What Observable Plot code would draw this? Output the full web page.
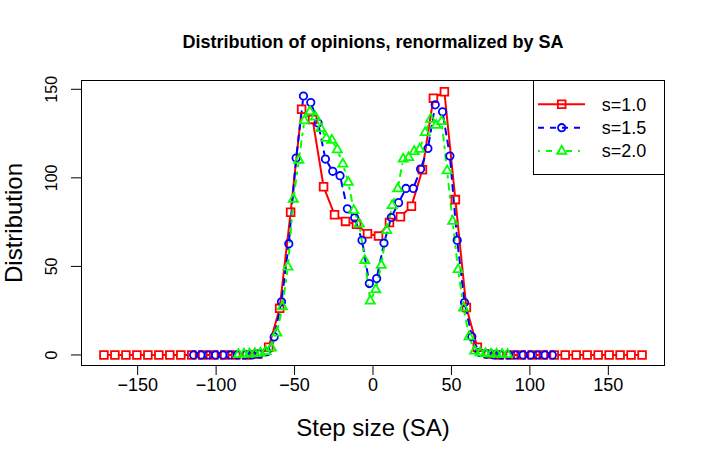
<!DOCTYPE html>
<html><head><meta charset="utf-8">
<script src="https://cdn.jsdelivr.net/npm/d3@7"></script>
<script src="https://cdn.jsdelivr.net/npm/@observablehq/plot@0.6"></script>
<style>
body{margin:0;background:#fff;}
#wrap{position:relative;width:706px;height:467px;font-family:"Liberation Sans",Arial,Helvetica,sans-serif;}
#legend{position:absolute;left:533px;top:80px;}
</style></head><body><div id="wrap"></div>
<script>
// ---- data ----
const title = "Distribution of opinions, renormalized by SA";
const xLabel = "Step size (SA)";
const yLabel = "Distribution";
const xTicks = [-150, -100, -50, 0, 50, 100, 150];
const yTicks = [0, 50, 100, 150];
const seriesNames = ["s=1.0", "s=1.5", "s=2.0"];

const x10 = [-171.5,-164.5,-157.5,-150.5,-143.5,-136.5,-129.5,-122.5,-115.5,-108.5,-101.5,-94.5,-87.5,-80.5,-73.5,-66.5,-59.5,-52.5,-45.5,-38.5,-31.5,-24.5,-17.5,-10.5,-3.5,3.5,10.5,17.5,24.5,31.5,38.5,45.5,52.5,59.5,66.5,73.5,80.5,87.5,94.5,101.5,108.5,115.5,122.5,129.5,136.5,143.5,150.5,157.5,164.5,171.5];
const y10 = [0,0,0,0,0,0,0,0,0,0,0,0,0,0,
  0.5,4.3,26.3,80.6,138.7,133,95,79.2,75.4,73.8,68.4,67.1,74.8,78,84,104.6,145,148.6,87.7,26.8,4.3,0.5,
  0,0,0,0,0,0,0,0,0,0,0,0,0,0];

const x15 = [-114.33,-109.67,-105,-100.33,-95.67,-91,-86.33,-81.67,-77,-72.33,-67.67,-63,-58.33,-53.67,-49,-44.33,-39.67,-35,-30.33,-25.67,-21,-16.33,-11.67,-7,-2.33,2.33,7,11.67,16.33,21,25.67,30.33,35,39.67,44.33,49,53.67,58.33,63,67.67,72.33,77,81.67,86.33,91,95.67,100.33,105,109.67,114.33];
const y15 = [0,0,0,0,0,0,0,0,0,
  0.5,1.8,10.2,30,62.8,111.2,146.2,142.5,131,110.6,103.7,101.2,82.5,77.4,64.7,40.3,43.1,63.2,77.6,86,94,94,105,116.6,141.2,137.3,112.3,64.7,29.6,10.3,1.5,0.5,
  0,0,0,0,0,0,0,0,0];

const x20 = [-85.75,-82.25,-78.75,-75.25,-71.75,-68.25,-64.75,-61.25,-57.75,-54.25,-50.75,-47.25,-43.75,-40.25,-36.75,-33.25,-29.75,-26.25,-22.75,-19.25,-15.75,-12.25,-8.75,-5.25,-1.75,1.75,5.25,8.75,12.25,15.75,19.25,22.75,26.25,29.75,33.25,36.75,40.25,43.75,47.25,50.75,54.25,57.75,61.25,64.75,68.25,71.75,75.25,78.75,82.25,85.75];
const y20 = [0.3,0.5,0.6,0.8,1.0,1.9,4.0,12.4,27.2,49.7,88,110,132.3,137.4,134.4,127.9,122.4,121.3,115.9,107.8,97.5,81.6,74,53.4,30.5,36.9,50.6,70.3,84.4,93.8,110.6,111.5,114.9,116.2,125.6,133.1,129.7,131.8,104,75.5,48.2,26.6,10.3,2.2,1.2,0.8,0.6,0.5,0.4,0.3];

// ---- styles ----
const styles = [
  {color:"#FF0000", symbol:"square",   r:4.35, dash:null},
  {color:"#0000FF", symbol:"circle",   r:3.7,  dash:"6,6"},
  {color:"#00FF00", symbol:"triangle", r:3.4,  dash:"2,6,6,6"}
];
const series = [[x10,y10],[x15,y15],[x20,y20]].map(([xs,ys],i) => ({
  name: seriesNames[i], ...styles[i],
  data: xs.map((x,j) => ({x, y: ys[j]}))
}));

// R type="b": line segments with gaps around each point
function gapCurve(gap) {
  return (context) => {
    let pts = [];
    return {
      areaStart(){}, areaEnd(){},
      lineStart(){ pts = []; },
      point(x, y){ pts.push([+x, +y]); },
      lineEnd(){
        for (let i = 0; i < pts.length - 1; i++) {
          const [x0,y0] = pts[i], [x1,y1] = pts[i+1];
          const dx = x1 - x0, dy = y1 - y0, d = Math.hypot(dx, dy);
          if (d > 2*gap + 0.5) {
            const ux = dx/d, uy = dy/d;
            context.moveTo(x0 + ux*gap, y0 + uy*gap);
            context.lineTo(x1 - ux*gap, y1 - uy*gap);
          }
        }
      }
    };
  };
}

const fmt = d3.format("d");
const marks = [];
for (const s of series) {
  marks.push(Plot.line(s.data, {x:"x", y:"y", stroke:s.color, strokeWidth:2,
    strokeDasharray: s.dash || undefined, curve: gapCurve(5)}));
}
for (const s of series) {
  marks.push(Plot.dot(s.data, {x:"x", y:"y", symbol:s.symbol, r:s.r, stroke:s.color,
    strokeWidth:1.8, fill:"none"}));
}

const chart = Plot.plot({
  width: 706, height: 467,
  marginLeft: 81, marginRight: 42, marginTop: 80, marginBottom: 102,
  style: {fontFamily: "'Liberation Sans', Arial, Helvetica, sans-serif", background: "white", color: "black"},
  x: {domain: [-185.8, 185.8], axis: null},
  y: {domain: [-5.96, 154.96], axis: null},
  marks: [
    Plot.frame({stroke: "black", strokeWidth: 1}),
    Plot.axisX({ticks: xTicks, tickSize: 10, tickFormat: () => "", label: null, stroke:"black"}),
    Plot.axisY({ticks: yTicks, tickSize: 10, tickFormat: () => "", label: null, stroke:"black"}),
    Plot.text(xTicks, {x: d => d, text: d => fmt(d), frameAnchor: "bottom", dy: 20, fontSize: 18, textAnchor: "middle", lineAnchor: "middle", fill: "black"}),
    Plot.text(yTicks, {y: d => d, text: d => fmt(d), frameAnchor: "left", dx: -30, rotate: -90, fontSize: 16, textAnchor: "middle", lineAnchor: "middle", fill: "black"}),
    Plot.text([xLabel], {text: d => d, frameAnchor: "bottom", dy: 63, fontSize: 24, textAnchor: "middle", lineAnchor: "middle", fill: "black"}),
    Plot.text([yLabel], {text: d => d, frameAnchor: "left", dx: -67, rotate: -90, fontSize: 24, textAnchor: "middle", lineAnchor: "middle", fill: "black"}),
    Plot.text([title], {text: d => d, frameAnchor: "top", dy: -38, fontSize: 18, fontWeight: "bold", textAnchor: "middle", lineAnchor: "middle", fill: "black"}),
    ...marks
  ]
});
const wrap = document.getElementById("wrap");
wrap.appendChild(chart);

// ---- legend (top-right inside the plot box) ----
const lw = 132, lh = 95;
const leg = d3.select(wrap).append("svg").attr("id","legend").attr("width", lw).attr("height", lh);
leg.append("rect").attr("x",0.5).attr("y",0.5).attr("width",lw-1).attr("height",lh-1)
  .attr("fill","white").attr("stroke","black");
const symMap = {square: d3.symbolSquare, circle: d3.symbolCircle, triangle: d3.symbolTriangle};
series.forEach((s, i) => {
  const cy = 24.3 + i*23.4;
  const g = leg.append("g");
  g.append("line").attr("x1",5).attr("x2",52).attr("y1",cy).attr("y2",cy)
    .attr("stroke",s.color).attr("stroke-width",2).attr("stroke-dasharray", s.dash || null);
  g.append("path").attr("d", d3.symbol(symMap[s.symbol], Math.PI*s.r*s.r)())
    .attr("transform",`translate(28.7,${cy})`).attr("fill","none").attr("stroke",s.color).attr("stroke-width",1.8);
  g.append("text").attr("x",68.7).attr("y",cy).attr("dy","0.35em")
    .attr("font-size",18).attr("font-family","'Liberation Sans', Arial, sans-serif").text(s.name);
});
</script></body></html>
